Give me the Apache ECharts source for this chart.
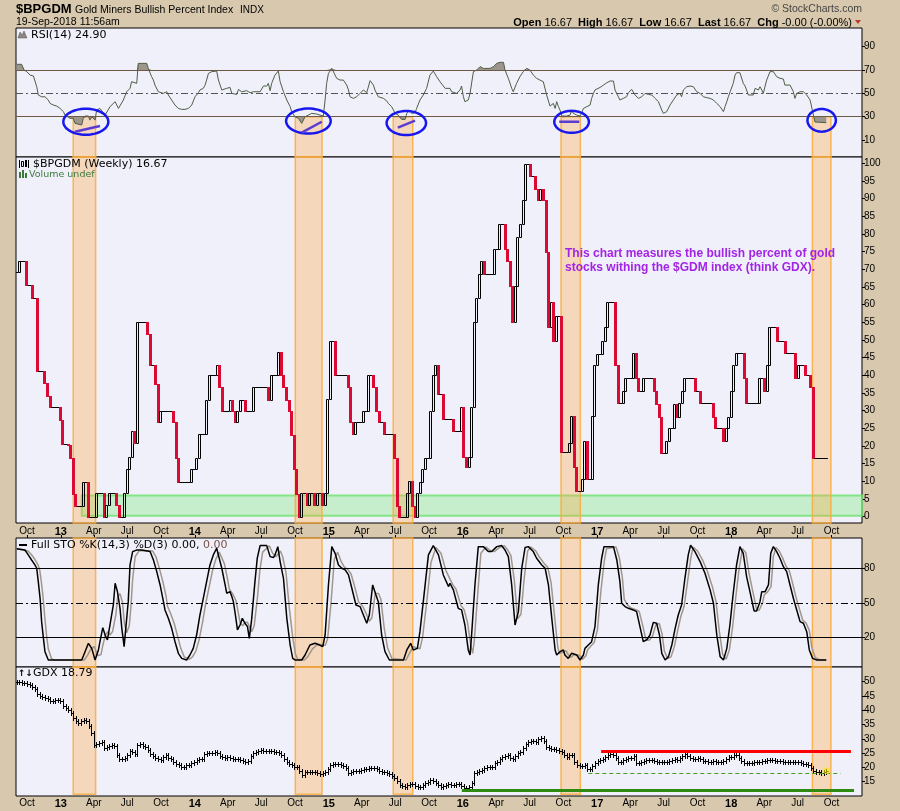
<!DOCTYPE html>
<html><head><meta charset="utf-8">
<script src="https://cdn.jsdelivr.net/npm/echarts@6/dist/echarts.min.js"></script>
<style>html,body{margin:0;padding:0;background:#d8c9ae;}#c{width:900px;height:811px;}</style>
</head><body><div id="c"></div>
<script>
// ---------- data ----------
const WEEK0 = Date.UTC(2012, 8, 3);           // week index 0 = week of 3-Sep-2012
const WEEKMS = 7 * 86400000;
const tickMonths = ['2012-10','2013-01','2013-04','2013-07','2013-10','2014-01','2014-04','2014-07','2014-10',
  '2015-01','2015-04','2015-07','2015-10','2016-01','2016-04','2016-07','2016-10','2017-01','2017-04','2017-07','2017-10',
  '2018-01','2018-04','2018-07','2018-10'];
const monthNames = {1:'Jan',4:'Apr',7:'Jul',10:'Oct'};
const rsiTicks = [10,30,50,70,90];
const bpTicks = [0,5,10,15,20,25,30,35,40,45,50,55,60,65,70,75,80,85,90,95,100];
const stoTicks = [20,50,80];
const gdxTicks = [15,20,25,30,35,40,45,50];

// $BPGDM weekly closes
const bpClose = [
69.3,72.3,72.3,72.3,65.5,65.5,62,62,41.3,41.3, 41.3,37.8,34.3,31,31,31,31,27.4,20.6,20.6,
20.3,16.6,6.4,3.1,3.1,3.1,9.9,9.9,0,0, 0,6.7,6.7,6.7,0,3.3,6.7,6.7,6.7,3.3,
0,0,6.7,13.5,16.8,24.2,20.8,55,55,55, 55,51.7,43,43,37.6,26.7,29.8,29.8,29.8,29.8,
29.8,26.7,16.6,9.9,9.9,9.9,9.9,9.9,13.5,13.5, 16.6,23.4,23.4,23.4,33.1,40.1,40.1,40.1,43,36.6,
29.8,29.8,29.8,33.1,29.8,26.7,29.8,33.1,33.1,29.8, 29.8,29.8,36.6,36.6,36.6,36.6,36.6,36.6,33.1,40.1,
40.1,40.1,46.5,40.1,36.6,33.1,29.8,23.2,13.5,6.4, 0,6.7,6.7,3.3,6.7,6.7,3.3,6.7,6.7,3.3,
6.7,33.3,49.8,49.8,40.1,40.1,40.1,40.1,40.1,36.6, 26.7,23.4,26.7,26.7,26.7,29.8,29.8,40.1,40.1,36.6,
29.8,26.7,26.7,23.4,23.4,23.4,23.4,16.6,3.1,0, 0,0,6.7,10,3.1,0,6.7,9.9,13.5,16.6,
16.6,29.8,40.1,43,34.7,34.7,27.7,27.7,27.7,27.7, 24.3,24.3,24.3,31,16.8,14,16.8,31,55,62,
68.7,72.5,68.7,68.7,68.7,68.7,75.8,75.8,82.8,82.8, 75.8,72.5,65.4,55,65.4,79.1,82.8,89.5,99.8,99.8,
96.5,96.5,92.8,89.5,92.8,89.5,74.8,53.6,60.7,49.8, 56.9,56.9,18.2,18.2,18.2,21,28.6,14.2,7.2,7.2,
10.7,21.5,10.7,10.7,28.6,42.8,46.1,46.1,49.8,53.6, 60.7,60.7,60.7,42.9,32.1,32.1,35.7,39.3,39.3,39.3,
46.2,39.3,35.7,35.7,39.3,39.3,39.3,39.3,35.7,31.8, 28.3,17.9,17.9,21.5,25.1,25.1,31.8,28.3,32.1,35.7,
39.3,39.3,39.3,39.3,35.7,35.7,32.1,32.1,32.1,32.1, 32.1,28.3,25.1,25.1,25.1,21.5,25.1,28.3,35.7,42.9,
46.2,46.2,46.2,39.3,32.1,32.1,32.1,32.1,32.1,39.3, 39.3,35.7,42.9,53.6,53.6,53.6,49.8,49.8,49.8,46.2,
46.2,46.2,46.2,39.3,42.9,42.9,42.9,40.2,40.2,36.6, 16.67,16.67,16.67,16.67,16.67,16.67
];

// RSI(14) vertices [week, value]
const rsiPts = [[0,74.9],[1.9,74.9],[2.9,70],[3.9,68.6],[5.2,65.7],[6.5,64.9],[7.1,64.3],[7.8,55.7],[8.4,48.6],[9.7,47.1],[11,47.1],[12.3,44.3],[13,41.4],[14.3,40],[15.6,39.1],[16.9,37.1],[18.2,34.3],[18.8,31.4],[19.5,30],[20.8,28.6],[22,28.6],[22.7,24.3],[23.3,22.9],[25.3,22.9],[25.9,28.6],[26.6,30.6],[27.9,30.6],[28.5,27.1],[29.2,30],[29.8,30.6],[30.5,27.1],[31.1,35.7],[32.4,37.1],[33.1,37.1],[34.4,31.4],[35,32.9],[36.3,38.6],[38.3,42.9],[39.6,37.1],[40.2,35.7],[41.5,44.3],[42.8,51.4],[44.1,54.3],[44.7,60],[45.4,61.4],[46.7,58.6],[47.3,75.7],[50.6,75.7],[51.2,71.4],[52.5,64.3],[53.2,61.4],[53.8,57.1],[54.5,55.7],[55.1,51.4],[55.8,50],[57.1,50],[58.4,51.4],[59,48.6],[60.3,44.3],[61.6,40],[62.9,37.1],[64.2,36.3],[65.5,36.3],[66.8,37.1],[68.1,40],[69.4,47.1],[70.7,50.6],[71.3,52.9],[72.6,54.3],[73.3,57.1],[73.9,61.4],[74.6,67.1],[75.9,68.6],[77.8,69.1],[78.5,61.4],[79.8,52.9],[80.4,54.3],[81.7,54.3],[82.4,52.9],[83,55.1],[83.7,50],[84.3,48.6],[85.6,49.1],[86.3,53.4],[86.9,54.3],[87.5,51.4],[88.2,50],[89.5,52.3],[90.8,50.6],[92.1,51.4],[94.7,51.4],[96,56.3],[97.3,56.3],[97.9,58.6],[98.6,52.3],[99.2,58.6],[99.9,60],[100.5,65.7],[101.8,69.1],[102.5,60],[103.8,51.4],[105.1,44.3],[106.4,38.6],[107,34.3],[107.7,32.9],[108.3,30],[109.6,28.6],[110.2,27.1],[110.9,24.3],[112.2,30],[113.5,31.4],[114.8,32.9],[116.7,32.3],[118,31.4],[119.3,30.6],[120,44.3],[120.6,58.6],[121.3,67.1],[122.6,71.4],[123.2,70],[124.5,62.9],[125.8,61.4],[127.1,61.4],[128.4,57.1],[129.1,52.9],[129.7,47.1],[131,45.7],[131.6,46.3],[132.3,47.1],[133.6,50],[134.9,52.9],[136.2,50.6],[137.5,60.9],[138.8,57.1],[139.4,52.9],[140.7,47.1],[141.4,47.1],[142.7,45.7],[144,43.4],[144.6,41.4],[145.9,38.6],[146.6,35.7],[147.2,32.9],[148.5,31.4],[149.2,30.6],[149.8,27.7],[151.1,27.7],[151.8,32.9],[153,35.7],[153.7,32.9],[154.3,32.9],[155,33.4],[155.6,37.1],[156.9,44.3],[158.2,48.6],[159.5,54.3],[160.8,65.7],[162.1,69.1],[163.4,64.3],[164.7,60],[165.4,60.6],[166.7,54.3],[168.6,54.3],
[169.2,51.4],[169.9,50.6],[171.2,50],[172.5,52.9],[173.1,56.3],[173.8,47.1],[174.4,42.9],[175.1,41.4],[175.7,44.3],[176.4,50],[177.7,68.6],[179,70],[180.3,72.9],[180.9,74.3],[181.6,71.4],[184.2,71.4],[185.5,72.9],[186.8,75.7],[188.1,76.6],[189.4,76.6],[190,70],[191.3,62.9],[192.6,54.3],[193.2,51.4],[194.5,58.6],[195.8,64.3],[197.1,68.6],[198.4,71.4],[199.7,70],[201,65.7],[202.3,62.9],[203.6,61.4],[204.9,60],[206.2,48.6],[207.5,39.1],[208.2,38.6],[208.8,41.4],[209.5,37.1],[210.1,42.9],[210.8,38.6],[211.4,35.7],[212.1,30.6],[212.7,29.4],[214,30.6],[215.3,31.4],[216,35.7],[216.6,32.9],[217.9,31.4],[219.2,30.6],[219.8,32.9],[220.5,37.1],[221.8,38.6],[223.1,40],[223.7,45.7],[224.4,50],[225,52.9],[227,55.1],[228.3,57.1],[229.6,59.1],[230.9,60.6],[232.2,60.6],[232.8,52.9],[234.1,47.1],[234.7,44.3],[236,45.7],[237.3,47.1],[238,50.6],[239.3,53.4],[239.9,52.9],[240.6,48.6],[241.9,45.7],[243.2,47.1],[244.5,50],[245.8,49.1],[247.1,48.6],[248.4,45.7],[249.7,42.9],[251,35.7],[251.6,32.9],[252.3,32.3],[252.9,34.3],[254.2,40],[255.5,44.3],[256.8,48.6],[258.1,50],[258.7,47.1],[259.4,52.9],[260.7,55.7],[262,56.3],[263.3,55.7],[264.6,51.4],[265.9,50],[267.2,47.1],[268.5,46.3],[269.8,45.7],[271.1,44.3],[272.4,41.4],[273.7,38.6],[275,34.3],[275.6,38.6],[276.3,42.9],[276.9,47.1],[277.6,51.4],[278.8,58.6],[279.5,65.7],[280.1,67.7],[281.4,67.7],[282.7,58.6],[283.4,56.3],[284,56.3],[284.7,48.6],[286.6,48.6],[287.3,54.3],[288.6,52.9],[289.2,55.7],[289.9,52.9],[290.5,50],[291.8,61.4],[293.1,68.6],[294.4,68.6],[295.7,64.3],[297,62.9],[298.3,62.3],[298.9,57.1],[300.9,57.1],[302.2,51.4],[302.8,45.7],[303.5,50],[304.8,51.4],[306.1,51.4],[307.4,48.6],[308.7,44.3],[310,31.4],[310.6,25.5],[315,24.9]];

// Full STO %K vertices [week, value]
const stoK = [[0,97],[3.2,95.9],[4.5,91.6],[5.8,87.2],[7.1,82.9],[7.8,80],[8.4,68.4],[9.1,53.9],[9.7,33.6],[10.4,19.1],[11,7.5],[12.3,0.3],[25.3,0.3],[26.6,7.5],[27.9,14.8],[29.2,10.4],[30.5,0.3],[31.8,9],[32.4,16.2],[33.5,28.4],[34.4,22],[35.3,17.7],[36.3,30.7],[37.6,48.1],[38.3,67],[39.2,59.7],[40.2,45.2],[40.9,27.8],[41.8,11.9],[42.8,36.5],[43.4,51],[44.1,82.9],[45.1,94.5],[46.7,95.9],[48.6,95.9],[51.9,94.5],[53.2,87.2],[54.5,77.1],[55.8,65.5],[57.1,51],[57.7,43.8],[59,36.5],[60.3,27.8],[61.6,16.2],[62.9,6.1],[64.2,1.7],[66.1,0.3],[67.4,4.6],[68.7,10.4],[70,22],[71.3,39.4],[72.6,53.9],[73.9,68.4],[75.2,82.9],[76.5,91.6],[77.8,97.4],[78.5,95.9],[79.8,80],[81.1,65.5],[81.7,58.3],[83,59.7],[83.7,55.4],[84.3,51],[85,40.9],[85.9,26.4],[86.9,30.7],[87.8,36.5],[88.8,32.2],[89.8,29.3],[90.5,19.1],[91.4,35.1],[92.7,68.4],[93.6,88.7],[94.7,99.7],[97.3,99.7],[98.6,90.1],[99.9,89.3],[100.5,91.6],[101.6,98.8],[102.5,85.8],[103.8,71.3],[105.1,36.5],[106.4,13.3],[107.4,1.7],[108.3,0.3],[110.9,0.3],[112.2,4.6],[114.1,13.3],[116.1,14.8],[117.8,13.3],[119.1,11.9],[120,22],[121.3,65.5],[122.6,98.8],[123.9,93],[125.2,82.9],[126.5,80],[127.8,78.6],[129.1,74.2],[130.4,62.6],[132,48.1],[133.6,46.7],[134.9,39.4],[136.2,32.2],[137.2,39.4],[138.5,65.5],[139.8,56.8],[140.7,51],[142,22],[143.3,7.5],[145,0.3],[150.5,0.3],[151.8,9],[153.3,14.8],[154.3,9],[155.9,10.4],[156.9,24.9],[158.2,51],[160.2,91.6],[162.1,99.7],[164.1,91.6],[166,74.2],[168,64.1],[168.6,67],[169.9,61.2],[171.8,45.2],[173.1,43.8],[174.4,30.7],[175.7,9],[176.4,4.6],[177,22],[178.3,65.5],[179.6,98.8],[181.6,98.8],[183.5,94.5],[184.8,94.5],[186.8,98.8],[188.7,99.7],[190,95.9],[191.3,90.1],[192.6,65.5],[193.9,30.7],[195.2,42.3],[196.5,80],[197.8,98],[199.1,98.8],[201,94.5],[202.3,88.7],[204.3,82.9],[205.6,80],[206.9,65.5],[208.2,36.5],[209.5,9],[210.1,4.6],[211.4,7.5],[212.7,9],[213.3,4.6],[214.6,1.7],[215.9,6.1],[216.6,4.6],[217.9,4.6],[219.2,0.3],[220.5,4.6],[221.1,10.4],[222.4,13.3],[223.7,16.2],[225,29.3],[226.3,65.5],[227.6,88.7],[228.5,98.8],[232.2,98.8],[233.5,87.2],[234.7,68.4],[235.4,49.6],[236.7,46.7],[238,45.2],[239.9,43.8],[241.2,42.3],[242.5,29.3],[243.8,16.2],[245.1,17.7],[246.4,22],[247.7,33],[249,32.2],[250.1,22],[251,6.1],[252.3,0.3],[253.6,3.2],[254.9,13.3],[256.2,27.8],[257.4,39.4],[258.7,48.1],[260,71.3],[261.3,91.6],[262.2,100],[263.9,94.5],[265.9,85.8],[267.8,75.7],[269.8,61.2],[271.1,49.6],[272.4,22],[273.7,3.2],[275,0.3],[276.3,10.4],[277.5,30.7],[278.8,58.3],[280.1,82.9],[281.4,98.8],[282.7,93],[284,72.8],[285.3,59.7],[286.9,42.9],[287.9,42.9],[289.2,51],[289.9,59.7],[291.2,59.7],[292.5,65.5],[293.4,93],[294.4,98.8],[295.7,94.5],[297,88.7],[298.3,81.4],[299.6,77.1],[300.9,65.5],[302.2,53.9],[303.5,43.8],[304.8,33.6],[306.1,32.2],[307.4,24.9],[308.4,9],[309.7,1.7],[311.3,0.3],[315,0.3]];

// %D vertices [week, value]
const stoD = [[0,97],[4.4,95],[5.7,92],[7,88],[8.3,83],[9,78],[9.6,68],[10.3,54],[10.9,38],[11.6,22],[12.3,10],[13.5,1.5],[14.5,0.3],[26.3,0.3],[27.6,4.5],[28.9,10],[30.2,12],[31.5,4],[32.8,5],[33.4,12],[34.5,22],[35.4,25],[36.3,22],[37.3,25],[38.6,40],[39.3,55],[40.2,58],[41.2,50],[41.9,32],[42.8,24],[43.8,30],[44.4,45],[45.1,70],[46.1,90],[47.7,95.5],[52.9,95],[54.2,90],[55.5,80],[56.8,69],[58.1,56],[58.7,47],[60,40],[61.3,32],[62.6,21],[63.9,10],[65.2,3],[67.1,0.8],[68.4,3],[69.7,8],[71,18],[72.3,33],[73.6,50],[74.9,64],[76.2,78],[77.5,88],[78.8,94],[79.5,95.5],[80.8,84],[82.1,70],[82.7,62],[84,58],[84.7,57],[85.3,52],[86,44],[86.9,33],[87.9,30],[88.8,33],[89.8,33],[90.8,28],[91.5,25],[92.4,30],[93.7,55],[94.6,78],[95.7,94],[98.3,99.5],[99.6,93],[100.9,90],[101.5,90],[102.6,95],[103.5,90],[104.8,76],[106.1,45],[107.4,20],[108.4,6],[109.3,1],[111.9,0.3],[113.2,3],[115.1,10],[117.1,14],[118.8,13.5],[120.1,13],[121,19],[122.3,50],[123.6,88],[124.9,94],[126.2,86],[127.5,81],[128.8,79],[130.1,75],[131.4,65],[133,51],[134.6,47],[135.9,41],[137.2,34],[138.2,37],[139.5,58],[140.8,58],[141.7,53],[143,28],[144.3,11],[146,1.5],[151.5,0.3],[152.8,6],[154.3,12],[155.3,11],[156.9,10],[157.9,20],[159.2,44],[161.2,85],[163.1,98],[165.1,93],[167,78],[169.6,66],[170.9,62],[172.8,48],[174.1,44],[175.4,33],[176.7,13],[177.4,6],[178,16],[179.3,55],[180.6,93],[182.6,98.5],[184.5,95],[185.8,94.5],[187.8,98],[189.7,99.5],[191,96],[192.3,91],[193.6,70],[194.9,36],[196.2,40],[197.5,72],[198.8,95],[200.1,98.5],[202,95],[203.3,90],[205.3,84],[206.6,81],[207.9,68],[209.2,40],[210.5,12],[211.1,6],[212.4,7],[213.7,8.5],[214.3,6],[215.6,2.5],[216.9,5],[217.6,5],[218.9,4.5],[220.2,1],[221.5,4],[222.1,9],[223.4,12.5],[224.7,15.5],[226,27],[227.3,60],[228.6,86],[229.5,97],[233.2,98.5],[234.5,89],[235.7,71],[236.4,53],[237.7,48],[239,45.5],[240.9,44],[242.2,42.5],[243.5,31],[244.8,18],[246.1,17.5],[247.4,21],[248.7,31],[250,32],[251.1,23],[252,8],[253.3,1.5],[254.6,3],[255.9,12],[257.2,26],[258.4,38],[259.7,47],[261,68],[262.3,89],[263.2,98.5],[264.9,95],[266.9,87],[268.8,77],[270.8,63],[272.1,51],[273.4,25],[274.7,5],[276,1],[277.3,9],[278.5,28],[279.8,55],[281.1,80],[282.4,97],[283.7,93.5],[285,75],[286.3,61],[287.9,44],[288.9,43.5],[290.2,50],[290.9,57],[292.2,59.5],[293.5,64],[294.4,90],[295.4,98],[296.7,95],[298,89],[299.3,82],[300.6,78],[301.9,67],[303.2,55],[304.5,45],[305.8,35],[307.1,32.5],[308.4,26],[309.4,11],[310.7,2.5],[312.3,0.5],[315,0.3]];

// GDX weekly closes
const gdxClose = [
50,49.8,49.6,49.4,49.1,48.8,48.2,47.4,45.6,44.8, 44.7,44.2,43.8,43.2,43.2,43.5,43.6,43.3,41.3,40.9,
40.2,39,37.2,36.1,35.6,36.2,36.6,36.1,34.4,32, 27.8,28.2,28.6,28.8,26.9,27,27.6,27.8,27.4,24.2,
22.8,22.9,23.3,24.4,25.6,25.3,24.8,27.8,28.3,27.5, 27.1,26.1,24.6,24,23.4,23.1,22.7,23.8,24.2,23.2,
22.9,21.9,21.1,20.7,20.3,20.3,20.7,21,21.4,22, 22.7,22.8,22.8,24.6,25.2,25,25.2,25.4,24.9,24.1,
23.5,23.2,23.6,23.4,23.1,22.9,22.8,22.7,22.3,22, 22.2,24.1,25.2,25.4,25.7,26.1,25.8,25.7,25.7,25.7,
25.4,25.3,25.2,24.4,22.8,21.8,21.2,20.9,20.3,20, 18.6,17.5,18.3,18.5,18.5,18.5,18.3,18,17.7,17.9,
18.3,19.5,20.8,21.3,21.3,21.2,20.8,20.4,19.8,18, 18.5,18.7,18.7,18.8,19.1,19.3,19.6,19.7,19.7,19.9,
19.4,18.8,18.5,18.3,18.1,17.6,17.1,16.2,15.2,14, 13.5,13.3,13.7,14.2,14.3,13.4,13,13.3,13.9,14.4,
15,15.5,15.4,14.6,13.8,13.3,13.5,13.7,14.1,14, 13.9,14.1,14.3,13.4,12.9,12.9,13.2,14.5,17.9,18.4,
18.9,19.2,19.9,20.3,20.1,20.3,21.5,22,22.9,23.6, 24.1,24.3,23.3,22.8,24,24.9,25.5,26.7,28.3,29,
29.4,29.1,28.9,30,30.2,29.3,27.3,26.8,26.5,26.3, 26.1,25.8,25.3,24.4,23.8,24.2,24.5,22,20.9,20.5,
20.5,20.9,19.3,19.3,20.6,21.4,22.4,22.7,23.1,23.6, 24.2,24.7,24.5,23.3,21.9,22,22.5,22.9,23.2,23.4,
24,21.6,21.6,22,22.2,22.5,22.6,22.6,22.1,22, 21.9,21.8,21.8,22,22.4,22.7,22.8,22.6,23.2,24,
24.6,23.9,23.3,22.9,23,23.2,22.9,22.3,22.1,22, 22,22.1,22,21.8,21.8,22.3,23,23.5,23.8,24.3,
24.2,23.3,22.1,21.5,21.4,21.4,21.4,21.8,21.9,22, 22.1,22.2,22.5,22.6,22.6,22.4,22.2,22.1,22,22,
22,21.9,21.9,22,22,21.6,21.3,21.1,20.9,19.7, 18.9,18.5,18.3,17.9,18.3,18.79
];

// shaded weeks, support/resistance, annotations
const bands = [[22.0,30.7],[108.4,118.8],[146.5,154.1],[211.8,219.3],[309.6,316.8]];
const greenZone = [25.3, 0.3, 6.0];             // from week, low, high
const gdxRes = [227.4, 324.6, 25.8];            // red resistance
const gdxSup = [173.2, 325.8, 12.1];            // green support
const gdxSup2 = [222.4, 320.6, 18.0];           // dashed support
const ovals = [[26.9,25.7,22.5,13],[113.5,26.3,22.3,12.5],[151.6,24.6,19.7,12],[215.9,25.6,17.3,11],[313.2,26.9,14.2,11.3]];
const slashes = [[22.7,17.1,32.4,22.0],[110.9,16.3,118.7,25.7],[148.3,20.6,155.0,26.6],[211.1,25.7,218.9,25.7]];

// ---------- chart ----------
const XMIN = -0.27, XMAX = 328.9;
const RED = '#dc0a32';
const LF = 'Liberation Sans, Arial, sans-serif';
const DF = 'DejaVu Sans, sans-serif';
const tickWeeks = tickMonths.map(s => { const [y, m] = s.split('-').map(Number); return (Date.UTC(y, m - 1, 1) - WEEK0) / WEEKMS; });
const tickText = tickMonths.map(s => { const [y, m] = s.split('-').map(Number); return m === 1 ? '{y|' + String(y).slice(2) + '}' : monthNames[m]; });
function xLabel(v) { const k = tickWeeks.findIndex(t => Math.abs(t - v) < 0.01); return k >= 0 ? tickText[k] : ''; }

const gridBase = { left: 16, right: 38, show: true, backgroundColor: '#f0f0fa', borderColor: '#000', borderWidth: 1, containLabel: false, outerBoundsMode: 'none' };
const grid = [
  Object.assign({ top: 28, height: 129 }, gridBase),
  Object.assign({ top: 157, height: 366 }, gridBase),
  Object.assign({ top: 538, height: 129 }, gridBase),
  Object.assign({ top: 667, height: 129 }, gridBase)
];
function xAx(g, opts) {
  return Object.assign({ type: 'value', gridIndex: g, min: XMIN, max: XMAX, axisLine: { show: false, onZero: false }, splitLine: { show: false },
    axisTick: { show: false }, axisLabel: { show: false } }, opts || {});
}
const labelOpts = (margin) => ({ position: 'bottom', axisLabel: { show: true, customValues: tickWeeks, formatter: xLabel, margin: margin, color: '#000', fontFamily: LF, fontSize: 10,
  hideOverlap: false, rich: { y: { fontWeight: 'bold', fontSize: 11, fontFamily: LF, color: '#000' } } } });
function yAx(g, min, max, vals) {
  return { type: 'value', gridIndex: g, position: 'right', min: min, max: max, axisLine: { show: false, onZero: false }, splitLine: { show: false },
    axisTick: { show: true, customValues: vals, length: 3, lineStyle: { color: '#000' } },
    axisLabel: { customValues: vals, color: '#000', fontFamily: LF, fontSize: 10, margin: 2, hideOverlap: false } };
}
const YR = [[-4.5, 106], [-1.78, 101.8], [-5.8, 106.3], [10.0, 55.1]];

const bandStyle = { color: 'rgba(255,168,64,0.34)', borderColor: 'rgba(250,172,60,0.85)', borderWidth: 1.5 };
function bandSeries(g, y0, y1) {
  return { type: 'line', xAxisIndex: g, yAxisIndex: g, data: [], z: 4, silent: true,
    markArea: { silent: true, itemStyle: bandStyle, data: bands.map(b => [{ xAxis: b[0], yAxis: y0 }, { xAxis: b[1], yAxis: y1 }]) } };
}

const bpData = bpClose.map((c, i) => [i, i ? bpClose[i - 1] : c, c]);
const gdxData = gdxClose.map((c, i) => [i, i ? gdxClose[i - 1] : c, c]);

function renderBP(params, api) {
  const i = api.value(0), o = api.value(1), c = api.value(2);
  const p1 = api.coord([i, o]), p2 = api.coord([i, c]);
  const cx = p1[0];
  const yTop = Math.round(Math.min(p1[1], p2[1])) + 0.5, yBot = Math.round(Math.max(p1[1], p2[1])) + 0.5;
  if (c < o) {
    return { type: 'rect', shape: { x: Math.round(cx - 1.5), y: yTop - 0.5, width: 3, height: yBot - yTop + 1 }, style: { fill: RED } };
  }
  if (c > o) {
    const x = Math.round(cx - 1.5) + 0.5;
    return { type: 'rect', shape: { x: x, y: yTop, width: 2, height: yBot - yTop }, style: { fill: null, stroke: '#000', lineWidth: 1 } };
  }
  return { type: 'line', shape: { x1: cx - 1.6, y1: yTop, x2: cx + 1.6, y2: yTop }, style: { stroke: '#000', lineWidth: 1 } };
}
function renderGdx(params, api) {
  const i = api.value(0), o = api.value(1), c = api.value(2);
  const po = api.coord([i, o]), pc = api.coord([i, c]);
  const x = Math.round(po[0]) + 0.5;
  const yo = Math.round(po[1]) + 0.5, yc = Math.round(pc[1]) + 0.5;
  const top = Math.min(yo, yc) - 2.5, bot = Math.max(yo, yc) + 2.5;
  const st = { stroke: '#000', lineWidth: 1 };
  return { type: 'group', children: [
    { type: 'line', shape: { x1: x, y1: top, x2: x, y2: bot }, style: st },
    { type: 'line', shape: { x1: x - 2, y1: yo, x2: x, y2: yo }, style: st },
    { type: 'line', shape: { x1: x, y1: yc, x2: x + 2, y2: yc }, style: st }
  ] };
}
function renderOval(params, api) {
  const c = api.coord([api.value(0), api.value(1)]), rx = api.value(2), ry = api.value(3);
  const pts = [];
  for (let k = 0; k < 60; k++) { const a = k / 60 * Math.PI * 2; pts.push([c[0] + rx * Math.cos(a), c[1] + ry * Math.sin(a)]); }
  return { type: 'polygon', shape: { points: pts }, style: { fill: null, stroke: '#1818ee', lineWidth: 2.5 } };
}
function renderSlash(params, api) {
  const a = api.coord([api.value(0), api.value(1)]), b = api.coord([api.value(2), api.value(3)]);
  return { type: 'line', shape: { x1: a[0], y1: a[1], x2: b[0], y2: b[1] }, style: { stroke: '#5a3cd0', lineWidth: 2.5 } };
}
const hLine = (arr, color, width, type) => [{ coord: [arr[0], arr[2]], lineStyle: { color: color, width: width, type: type } }, { coord: [arr[1], arr[2]] }];

const txt = (x, y, text, extra) => ({ type: 'text', x: x, y: y, z: 100, silent: true,
  style: Object.assign({ text: text, fill: '#000', fontFamily: DF, fontSize: 11, verticalAlign: 'middle', align: 'left' }, extra || {}) });

const option = {
  animation: false,
  backgroundColor: '#d8c9ae',
  grid: grid,
  xAxis: [
    xAx(0),
    xAx(1, labelOpts(3)),
    xAx(2, { position: 'top', axisTick: { show: true, customValues: tickWeeks, length: 3, inside: false, lineStyle: { color: '#000' } } }),
    xAx(3, labelOpts(2))
  ],
  yAxis: [yAx(0, YR[0][0], YR[0][1], rsiTicks), yAx(1, YR[1][0], YR[1][1], bpTicks), yAx(2, YR[2][0], YR[2][1], stoTicks), yAx(3, YR[3][0], YR[3][1], gdxTicks)],
  series: [
    // RSI panel
    { type: 'line', xAxisIndex: 0, yAxisIndex: 0, data: rsiPts.map(p => [p[0], Math.max(p[1], 70)]), symbol: 'none', silent: true, z: 1,
      lineStyle: { width: 0, opacity: 0 }, areaStyle: { origin: 70, color: '#9d968c', opacity: 1 } },
    { type: 'line', xAxisIndex: 0, yAxisIndex: 0, data: rsiPts.map(p => [p[0], Math.min(p[1], 30)]), symbol: 'none', silent: true, z: 1,
      lineStyle: { width: 0, opacity: 0 }, areaStyle: { origin: 30, color: '#9d968c', opacity: 1 } },
    { type: 'line', xAxisIndex: 0, yAxisIndex: 0, data: rsiPts, symbol: 'none', silent: true, z: 2,
      lineStyle: { color: '#4e5e46', width: 1 },
      markLine: { silent: true, symbol: 'none', label: { show: false },
        data: [{ yAxis: 70, lineStyle: { color: '#6e5846', width: 1, type: 'solid' } }, { yAxis: 30, lineStyle: { color: '#6e5846', width: 1, type: 'solid' } },
          { yAxis: 50, lineStyle: { color: '#555', width: 1, type: [7, 3, 2, 3] } }] } },
    bandSeries(0, 30, YR[0][0]),
    { type: 'custom', xAxisIndex: 0, yAxisIndex: 0, data: ovals, renderItem: renderOval, encode: { x: 0, y: 1 }, z: 10, silent: true, clip: true },
    { type: 'custom', xAxisIndex: 0, yAxisIndex: 0, data: slashes, renderItem: renderSlash, encode: { x: [0, 2], y: [1, 3] }, z: 10, silent: true, clip: true },
    // Main panel
    { type: 'custom', xAxisIndex: 1, yAxisIndex: 1, data: bpData, renderItem: renderBP, encode: { x: 0, y: [1, 2] }, z: 2, silent: true, clip: true },
    { type: 'line', xAxisIndex: 1, yAxisIndex: 1, data: [], z: 3, silent: true,
      markArea: { silent: true, itemStyle: { color: 'rgba(120,235,120,0.35)', borderColor: 'rgba(110,225,110,0.8)', borderWidth: 2 },
        data: [[{ xAxis: greenZone[0], yAxis: greenZone[1] }, { xAxis: XMAX, yAxis: greenZone[2] }]] } },
    bandSeries(1, YR[1][0], YR[1][1]),
    // STO panel
    { type: 'line', xAxisIndex: 2, yAxisIndex: 2, data: stoD, symbol: 'none', silent: true, z: 1, lineStyle: { color: '#a0968c', width: 1.5 } },
    { type: 'line', xAxisIndex: 2, yAxisIndex: 2, data: stoK, symbol: 'none', silent: true, z: 2, lineStyle: { color: '#000', width: 1.5 },
      markLine: { silent: true, symbol: 'none', label: { show: false },
        data: [{ yAxis: 80, lineStyle: { color: '#000', width: 1, type: 'solid' } }, { yAxis: 20, lineStyle: { color: '#000', width: 1, type: 'solid' } },
          { yAxis: 50, lineStyle: { color: '#000', width: 1, type: [7, 3, 2, 3] } }] } },
    bandSeries(2, YR[2][0], YR[2][1]),
    // GDX panel
    { type: 'custom', xAxisIndex: 3, yAxisIndex: 3, data: gdxData, renderItem: renderGdx, encode: { x: 0, y: [1, 2] }, z: 2, silent: true, clip: true },
    { type: 'line', xAxisIndex: 3, yAxisIndex: 3, data: [], z: 6, silent: true,
      markLine: { silent: true, symbol: 'none', label: { show: false },
        data: [hLine(gdxRes, '#ff0000', 3, 'solid'), hLine(gdxSup, '#2f8a12', 3, 'solid'), hLine(gdxSup2, '#3fa020', 1, [4, 3])] } },
    { type: 'scatter', xAxisIndex: 3, yAxisIndex: 3, data: [[gdxClose.length - 1, gdxClose[gdxClose.length - 1]]], symbolSize: 7, silent: true, z: 5,
      itemStyle: { color: 'rgba(255,235,0,0.75)' } },
    bandSeries(3, 10.6, YR[3][1])
  ],
  graphic: [
    txt(16, 9.5, '$BPGDM', { fontFamily: LF, fontWeight: 'bold', fontSize: 13 }),
    txt(75, 10, 'Gold Miners Bullish Percent Index', { fontFamily: LF, fontSize: 10.5 }),
    txt(240, 10, 'INDX', { fontFamily: LF, fontSize: 10 }),
    txt(16, 22.5, '19-Sep-2018 11:56am', { fontFamily: LF, fontSize: 10.5 }),
    txt(862, 9.5, '\u00A9 StockCharts.com', { fontFamily: LF, fontSize: 10.5, align: 'right', fill: '#444' }),
    txt(852, 22.5, '{b|Open} 16.67  {b|High} 16.67  {b|Low} 16.67  {b|Last} 16.67  {b|Chg} -0.00 (-0.00%)',
      { fontFamily: LF, fontSize: 11, align: 'right', rich: { b: { fontFamily: LF, fontWeight: 'bold', fontSize: 11, fill: '#000' } } }),
    { type: 'polygon', z: 100, silent: true, shape: { points: [[855, 20], [861, 20], [858, 24]] }, style: { fill: '#c0392b' } },
    // panel legends
    { type: 'polygon', z: 100, silent: true, shape: { points: [[18, 38], [20, 32], [22, 35], [24, 31], [27, 38]] }, style: { fill: '#8d877d', stroke: '#555', lineWidth: 0.5 } },
    txt(31, 35, 'RSI(14) 24.90'),
    { type: 'group', z: 100, silent: true, children: [
      { type: 'line', shape: { x1: 19.5, y1: 160, x2: 19.5, y2: 168 }, style: { stroke: '#000', lineWidth: 1 } },
      { type: 'rect', shape: { x: 21.5, y: 161.5, width: 2, height: 5 }, style: { fill: null, stroke: '#000', lineWidth: 1 } },
      { type: 'rect', shape: { x: 25, y: 160, width: 2, height: 7 }, style: { fill: '#000' } },
      { type: 'line', shape: { x1: 28.5, y1: 160, x2: 28.5, y2: 168 }, style: { stroke: '#000', lineWidth: 1 } }
    ] },
    txt(33, 164.5, '$BPGDM (Weekly) 16.67'),
    { type: 'group', z: 100, silent: true, children: [
      { type: 'rect', shape: { x: 19, y: 172, width: 2, height: 6 }, style: { fill: '#3c7a3c' } },
      { type: 'rect', shape: { x: 22, y: 170, width: 2, height: 8 }, style: { fill: '#3c7a3c' } },
      { type: 'rect', shape: { x: 25, y: 173, width: 2, height: 5 }, style: { fill: '#3c7a3c' } }
    ] },
    txt(29, 174.5, 'Volume undef', { fill: '#3c7a3c', fontSize: 9.5 }),
    { type: 'line', z: 100, silent: true, shape: { x1: 19, y1: 545, x2: 27, y2: 545 }, style: { stroke: '#000', lineWidth: 2 } },
    txt(31, 545, 'Full STO %K(14,3) %D(3) 0.00, {g|0.00}', { rich: { g: { fill: '#7a5048', fontFamily: DF, fontSize: 11 } } }),
    txt(18, 673.5, '\u2191\u2193', { fontSize: 9, fontWeight: 'bold' }),
    txt(33, 673.5, 'GDX 18.79'),
    // annotation
    txt(565, 254, 'This chart measures the bullish percent of gold', { fontFamily: LF, fontWeight: 'bold', fontSize: 12, fill: '#a324e6' }),
    txt(565, 268, 'stocks withing the $GDM index (think GDX).', { fontFamily: LF, fontWeight: 'bold', fontSize: 12, fill: '#a324e6' })
  ]
};
const chart = echarts.init(document.getElementById('c'), null, { renderer: 'canvas' });
chart.setOption(option);
</script>
</body></html>
